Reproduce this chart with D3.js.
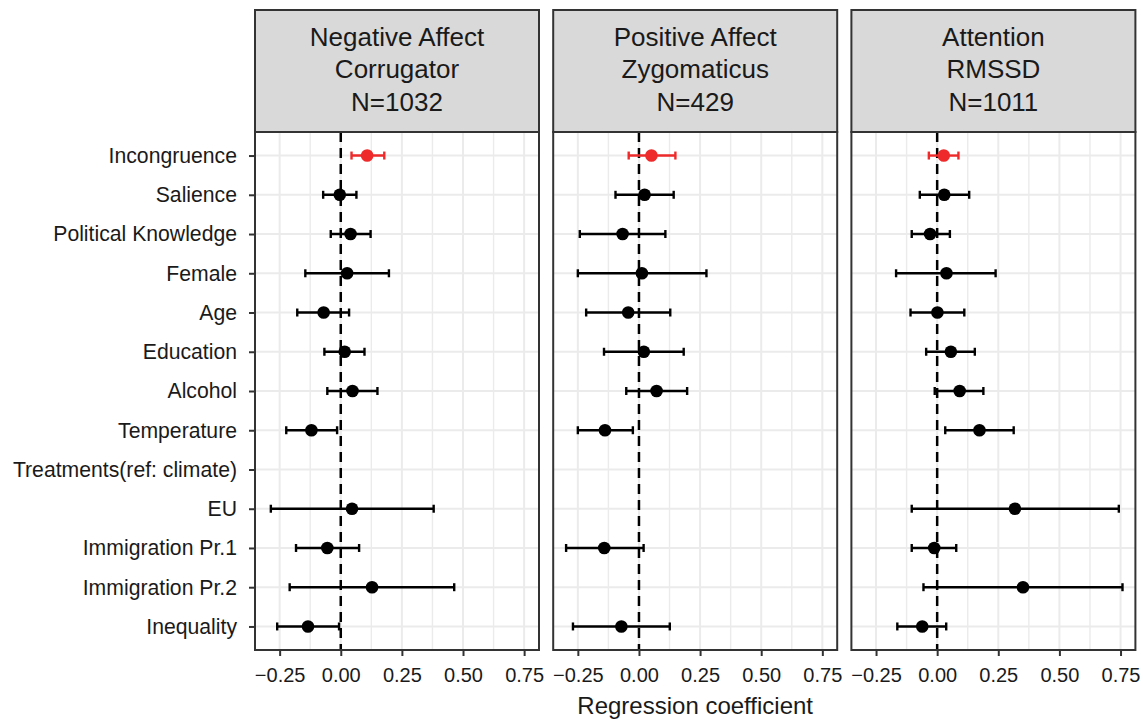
<!DOCTYPE html>
<html>
<head>
<meta charset="utf-8">
<script src="https://cdn.jsdelivr.net/npm/d3@7"></script>
<style>
  body { margin: 0; background: #fff; }
  text { font-family: "Liberation Sans", Arial, Helvetica, sans-serif; }
</style>
</head>
<body>
<div id="chart"></div>
<script>
var svgWidth = 1143;
var svgHeight = 721;

var categories = ['Incongruence', 'Salience', 'Political Knowledge', 'Female', 'Age',
                  'Education', 'Alcohol', 'Temperature', 'Treatments(ref: climate)',
                  'EU', 'Immigration Pr.1', 'Immigration Pr.2', 'Inequality'];

var panelTitles = [['Negative Affect', 'Corrugator', 'N=1032'],
                   ['Positive Affect', 'Zygomaticus', 'N=429'],
                   ['Attention', 'RMSSD', 'N=1011']];

// estimates and 95% CI bounds, null = not in model
var estCorrugator = [0.108, -0.004, 0.040, 0.026, -0.070, 0.016, 0.048, -0.120, null, 0.046, -0.055, 0.128, -0.134];
var lowCorrugator = [0.044, -0.072, -0.041, -0.145, -0.178, -0.067, -0.055, -0.223, null, -0.286, -0.183, -0.209, -0.260];
var highCorrugator = [0.178, 0.064, 0.122, 0.197, 0.034, 0.097, 0.150, -0.015, null, 0.380, 0.075, 0.464, -0.007];

var estZygomaticus = [0.051, 0.023, -0.067, 0.012, -0.044, 0.020, 0.072, -0.139, null, null, -0.142, null, -0.072];
var lowZygomaticus = [-0.042, -0.096, -0.242, -0.250, -0.216, -0.143, -0.052, -0.250, null, null, -0.298, null, -0.270];
var highZygomaticus = [0.149, 0.142, 0.108, 0.276, 0.128, 0.183, 0.197, -0.025, null, null, 0.019, null, 0.126];

var estRmssd = [0.027, 0.029, -0.029, 0.038, 0.001, 0.056, 0.092, 0.173, null, 0.318, -0.012, 0.351, -0.061];
var lowRmssd = [-0.034, -0.071, -0.104, -0.168, -0.109, -0.045, -0.010, 0.033, null, -0.104, -0.104, -0.056, -0.163];
var highRmssd = [0.087, 0.131, 0.052, 0.239, 0.111, 0.154, 0.189, 0.313, null, 0.743, 0.078, 0.758, 0.037];

var xTicks = [-0.25, 0, 0.25, 0.5, 0.75];
var xMinor = [-0.125, 0.125, 0.375, 0.625];

var panels = [[estCorrugator, lowCorrugator, highCorrugator],
              [estZygomaticus, lowZygomaticus, highZygomaticus],
              [estRmssd, lowRmssd, highRmssd]];

var panelLeft = 255;
var panelWidth = 284;
var panelGap = 14.2;
var stripTop = 10;
var panelTop = 132;
var panelBottom = 650;

var red = '#ee2a2a';
var borderCol = '#333333';

// shared x range like ggplot's fixed scales (5% expansion)
var allLow = d3.min(panels, p => d3.min(p[1].filter(v => v !== null)));
var allHigh = d3.max(panels, p => d3.max(p[2].filter(v => v !== null)));
var pad = (allHigh - allLow) * 0.05;

var xScale = d3.scaleLinear()
    .domain([allLow - pad, allHigh + pad])
    .range([0, panelWidth]);

var yScale = d3.scalePoint()
    .domain(categories)
    .range([panelTop, panelBottom])
    .padding(0.6);

var svg = d3.select('#chart')
    .append('svg')
    .attr('width', svgWidth)
    .attr('height', svgHeight);

panels.forEach(function(p, k) {
    var x0 = panelLeft + k * (panelWidth + panelGap);
    var g = svg.append('g')
        .attr('transform', `translate(${x0}, 0)`);

    var rows = categories.map(function(c, i) {
        return {cat: c, est: p[0][i], low: p[1][i], high: p[2][i], first: i === 0};
    }).filter(d => d.est !== null);

    // grid
    g.selectAll('.minor')
        .data(xMinor)
        .enter()
        .append('line')
        .attr('x1', d => xScale(d)).attr('x2', d => xScale(d))
        .attr('y1', panelTop).attr('y2', panelBottom)
        .attr('stroke', '#ebebeb')
        .attr('stroke-width', 1.4);
    g.selectAll('.major')
        .data(xTicks)
        .enter()
        .append('line')
        .attr('x1', d => xScale(d)).attr('x2', d => xScale(d))
        .attr('y1', panelTop).attr('y2', panelBottom)
        .attr('stroke', '#ebebeb')
        .attr('stroke-width', 2);
    g.selectAll('.hgrid')
        .data(categories)
        .enter()
        .append('line')
        .attr('x1', 0).attr('x2', panelWidth)
        .attr('y1', d => yScale(d)).attr('y2', d => yScale(d))
        .attr('stroke', '#ebebeb')
        .attr('stroke-width', 2);

    // zero line
    g.append('line')
        .attr('x1', xScale(0)).attr('x2', xScale(0))
        .attr('y1', panelTop).attr('y2', panelBottom)
        .attr('stroke', 'black')
        .attr('stroke-width', 2.5)
        .attr('stroke-dasharray', '10,6');

    // error bars
    var bars = g.selectAll('.bar')
        .data(rows)
        .enter()
        .append('g');
    bars.append('line')
        .attr('x1', d => xScale(d.low)).attr('x2', d => xScale(d.high))
        .attr('y1', d => yScale(d.cat)).attr('y2', d => yScale(d.cat))
        .attr('stroke', d => d.first ? red : 'black')
        .attr('stroke-width', 2.4);
    bars.append('line')
        .attr('x1', d => xScale(d.low)).attr('x2', d => xScale(d.low))
        .attr('y1', d => yScale(d.cat) - 4).attr('y2', d => yScale(d.cat) + 4)
        .attr('stroke', d => d.first ? red : 'black')
        .attr('stroke-width', 2.4);
    bars.append('line')
        .attr('x1', d => xScale(d.high)).attr('x2', d => xScale(d.high))
        .attr('y1', d => yScale(d.cat) - 4).attr('y2', d => yScale(d.cat) + 4)
        .attr('stroke', d => d.first ? red : 'black')
        .attr('stroke-width', 2.4);
    bars.append('circle')
        .attr('cx', d => xScale(d.est))
        .attr('cy', d => yScale(d.cat))
        .attr('r', 6.3)
        .attr('fill', d => d.first ? red : 'black');

    // panel border
    g.append('rect')
        .attr('x', 0).attr('y', panelTop)
        .attr('width', panelWidth).attr('height', panelBottom - panelTop)
        .attr('fill', 'none')
        .attr('stroke', borderCol)
        .attr('stroke-width', 2);

    // strip
    g.append('rect')
        .attr('x', 0).attr('y', stripTop)
        .attr('width', panelWidth).attr('height', panelTop - stripTop)
        .attr('fill', '#d9d9d9')
        .attr('stroke', borderCol)
        .attr('stroke-width', 2);
    g.append('g')
        .selectAll('text')
        .data(panelTitles[k])
        .enter()
        .append('text')
        .attr('x', panelWidth / 2)
        .attr('y', (d, i) => 46 + 32.3 * i)
        .attr('text-anchor', 'middle')
        .attr('font-size', 26)
        .attr('fill', '#1a1a1a')
        .text(d => d);

    // x axis
    var xAxis = d3.axisBottom(xScale)
        .tickValues(xTicks)
        .tickSize(5)
        .tickPadding(11.5)
        .tickFormat(d3.format('.2f'));
    var ax = g.append('g')
        .attr('transform', `translate(0, ${panelBottom + 1})`)
        .call(xAxis);
    ax.select('.domain').remove();
    ax.selectAll('line').attr('stroke', borderCol).attr('stroke-width', 2);
    ax.selectAll('text')
        .attr('font-size', 20)
        .attr('fill', '#1a1a1a')
        .attr('font-family', '"Liberation Sans", Arial, sans-serif');

    // y axis only on first panel
    if (k === 0) {
        var yAxis = d3.axisLeft(yScale)
            .tickSize(5)
            .tickPadding(12);
        var ay = g.append('g')
            .attr('transform', 'translate(-1, 0)')
            .call(yAxis);
        ay.select('.domain').remove();
        ay.selectAll('line').attr('stroke', borderCol).attr('stroke-width', 2);
        ay.selectAll('text')
            .attr('font-size', 21.2)
            .attr('fill', '#1a1a1a')
            .attr('font-family', '"Liberation Sans", Arial, sans-serif');
    }
});

var midX = panelLeft + (3 * panelWidth + 2 * panelGap) / 2;
svg.append('text')
    .attr('x', midX)
    .attr('y', 714)
    .attr('text-anchor', 'middle')
    .attr('font-size', 24)
    .attr('fill', '#1a1a1a')
    .text('Regression coefficient');
</script>
</body>
</html>
